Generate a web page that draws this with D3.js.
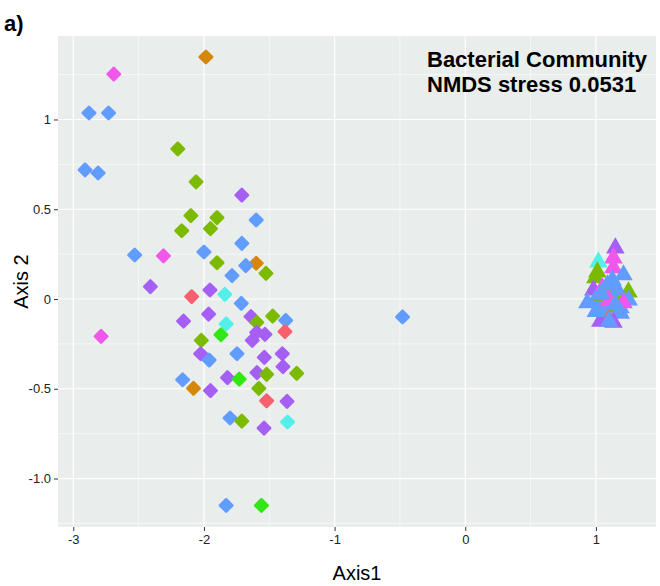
<!DOCTYPE html>
<html>
<head>
<meta charset="utf-8">
<script src="https://cdn.jsdelivr.net/npm/d3@7"></script>
<style>
  body { margin: 0; background: #fff; }
  svg text { font-family: "Liberation Sans", Arial, sans-serif; }
</style>
</head>
<body>
<svg id="chart" width="660" height="586"></svg>
<script>
// groups and their colours
const groups = ["G1", "G2", "G3", "G4", "G5", "G6", "G7", "G8"];
const groupColors = ["#F8606E", "#D5870A", "#7CBA00", "#33E615", "#55EFEA", "#619CFF", "#A65FF5", "#F057EA"];

// diamond sites (Axis1, Axis2, group)
const diaX = [-1.985, -2.69, -2.88, -2.73, -2.20, -2.91, -2.81, -2.06, -1.71, -2.10, -1.90, -1.60, -2.17, -1.95, -1.71,
  -2.53, -2.31, -2.00, -1.90, -1.60, -1.68, -1.525, -1.785, -2.41, -1.954, -1.84, -2.094, -1.714, -1.964, -1.64,
  -1.474, -2.156, -1.596, -1.83, -1.374, -1.596, -1.533, -1.38, -2.787, -1.87, -2.02, -1.63, -2.025, -1.96, -1.747,
  -1.538, -1.40, -1.395, -1.594, -1.52, -1.29, -2.163, -1.82, -1.73, -2.08, -1.95, -1.58, -1.52, -1.364, -1.80,
  -1.71, -1.54, -1.36, -1.83, -1.56, -0.48];
const diaY = [1.348, 1.253, 1.036, 1.036, 0.836, 0.719, 0.702, 0.652, 0.579, 0.464, 0.453, 0.44, 0.38, 0.392, 0.31,
  0.245, 0.24, 0.262, 0.202, 0.199, 0.186, 0.143, 0.13, 0.069, 0.05, 0.026, 0.013, -0.024, -0.084, -0.098,
  -0.095, -0.123, -0.13, -0.139, -0.119, -0.186, -0.197, -0.182, -0.208, -0.199, -0.23, -0.23, -0.305, -0.34, -0.305,
  -0.325, -0.305, -0.377, -0.41, -0.42, -0.414, -0.45, -0.438, -0.446, -0.498, -0.51, -0.498, -0.567, -0.57, -0.663,
  -0.68, -0.719, -0.685, -1.15, -1.15, -0.10];
const diaG = ["G2", "G8", "G6", "G6", "G3", "G6", "G6", "G3", "G7", "G3", "G3", "G6", "G3", "G3", "G6",
  "G6", "G8", "G6", "G3", "G2", "G6", "G3", "G6", "G7", "G7", "G5", "G1", "G6", "G7", "G7",
  "G3", "G7", "G3", "G5", "G6", "G7", "G7", "G1", "G8", "G4", "G3", "G7", "G7", "G6", "G6",
  "G7", "G7", "G7", "G7", "G3", "G3", "G6", "G7", "G4", "G2", "G7", "G3", "G1", "G7", "G6",
  "G3", "G7", "G5", "G6", "G4", "G6"];

// triangle sites (Axis1, Axis2, group), in drawing order
const triX = [1.149, 1.134, 1.019, 1.134, 1.011, 0.996, 0.981, 1.050, 1.134, 1.249, 1.073, 1.211, 1.126, 1.088,
  1.165, 0.935, 0.996, 1.034, 1.188, 1.250, 1.190, 1.070, 1.096, 1.034, 1.134, 1.211, 1.05, 1.10, 1.04, 1.15,
  1.10, 1.00];
const triY = [0.284, 0.228, 0.206, 0.173, 0.150, 0.117, 0.050, 0.061, 0.022, 0.039, -0.045, 0.134, 0.106, 0.078,
  0.050, -0.022, -0.006, -0.061, -0.050, -0.006, -0.080, -0.075, -0.115, -0.125, -0.130, -0.022, 0.02, -0.01, 0.03,
  -0.03, -0.125, -0.07];
const triG = ["G7", "G8", "G5", "G8", "G3", "G3", "G7", "G8", "G3", "G3", "G3", "G6", "G6", "G6",
  "G6", "G6", "G6", "G6", "G6", "G6", "G6", "G6", "G1", "G7", "G7", "G8", "G3", "G8", "G6", "G6",
  "G6", "G6"];

const xTicks = [-3, -2, -1, 0, 1];
const xTickLabels = ["-3", "-2", "-1", "0", "1"];
const yTicks = [1, 0.5, 0, -0.5, -1];
const yTickLabels = ["1", "0.5", "0", "-0.5", "-1.0"];

const svg = d3.select("#chart");
const panel = { left: 58, right: 656, top: 36, bottom: 527 };

const x = d3.scaleLinear().domain([-3.117, 1.46]).range([panel.left, panel.right]);
const y = d3.scaleLinear().domain([-1.27, 1.465]).range([panel.bottom, panel.top]);
const color = d3.scaleOrdinal().domain(groups).range(groupColors);

// panel background
svg.append("rect")
  .attr("x", panel.left).attr("y", panel.top)
  .attr("width", panel.right - panel.left).attr("height", panel.bottom - panel.top)
  .attr("fill", "#E9EDEB");

// minor grid
const xMinor = [-2.5, -1.5, -0.5, 0.5];
const yMinor = [1.25, 0.75, 0.25, -0.25, -0.75, -1.25];
svg.append("g").selectAll("line").data(xMinor).enter().append("line")
  .attr("x1", d => x(d)).attr("x2", d => x(d))
  .attr("y1", panel.top).attr("y2", panel.bottom)
  .attr("stroke", "#fff").attr("stroke-width", 0.6);
svg.append("g").selectAll("line").data(yMinor).enter().append("line")
  .attr("y1", d => y(d)).attr("y2", d => y(d))
  .attr("x1", panel.left).attr("x2", panel.right)
  .attr("stroke", "#fff").attr("stroke-width", 0.6);

// major grid
svg.append("g").selectAll("line").data(xTicks).enter().append("line")
  .attr("x1", d => x(d)).attr("x2", d => x(d))
  .attr("y1", panel.top).attr("y2", panel.bottom)
  .attr("stroke", "#fff").attr("stroke-width", 1.2);
svg.append("g").selectAll("line").data(yTicks).enter().append("line")
  .attr("y1", d => y(d)).attr("y2", d => y(d))
  .attr("x1", panel.left).attr("x2", panel.right)
  .attr("stroke", "#fff").attr("stroke-width", 1.2);

// axes
const xAxis = d3.axisBottom(x).tickValues(xTicks)
  .tickFormat((d, i) => xTickLabels[i]).tickSize(4).tickPadding(4);
const gx = svg.append("g").attr("transform", `translate(0,${panel.bottom})`).call(xAxis);
gx.select(".domain").remove();
gx.selectAll("line").attr("stroke", "#333");
gx.selectAll("text").attr("fill", "#222").style("font-size", "13px");

const yAxis = d3.axisLeft(y).tickValues(yTicks)
  .tickFormat((d, i) => yTickLabels[i]).tickSize(4).tickPadding(3);
const gy = svg.append("g").attr("transform", `translate(${panel.left},0)`).call(yAxis);
gy.select(".domain").remove();
gy.selectAll("line").attr("stroke", "#333");
gy.selectAll("text").attr("fill", "#222").style("font-size", "13px");

// points
const diamonds = diaX.map((v, i) => ({ x: v, y: diaY[i], g: diaG[i] }));
const triangles = triX.map((v, i) => ({ x: v, y: triY[i], g: triG[i] }));

const diamondPath = d3.symbol().type(d3.symbolSquare).size(76)();
svg.append("g").selectAll("path").data(diamonds).enter().append("path")
  .attr("d", diamondPath)
  .attr("transform", d => `translate(${x(d.x)},${y(d.y)}) rotate(45)`)
  .attr("fill", d => color(d.g))
  .attr("stroke", d => color(d.g))
  .attr("stroke-width", 2.6)
  .attr("stroke-linejoin", "round");

const triPath = d3.symbol().type(d3.symbolTriangle).size(150)();
svg.append("g").selectAll("path").data(triangles).enter().append("path")
  .attr("d", triPath)
  .attr("transform", d => `translate(${x(d.x)},${y(d.y)})`)
  .attr("fill", d => color(d.g));

// axis titles
svg.append("text")
  .attr("x", (panel.left + panel.right) / 2).attr("y", 580)
  .attr("text-anchor", "middle")
  .style("font-size", "20px")
  .text("Axis1");
svg.append("text")
  .attr("transform", `translate(28,${(panel.top + panel.bottom) / 2}) rotate(-90)`)
  .attr("text-anchor", "middle")
  .style("font-size", "20px")
  .text("Axis 2");

// annotation
const note = svg.append("text")
  .style("font-size", "22px").style("font-weight", "bold");
note.append("tspan").attr("x", 427).attr("y", 67).text("Bacterial Community");
note.append("tspan").attr("x", 427).attr("y", 92).text("NMDS stress 0.0531");

// panel tag
svg.append("text")
  .attr("x", 4).attr("y", 31)
  .style("font-size", "22px").style("font-weight", "bold")
  .text("a)");
</script>
</body>
</html>
